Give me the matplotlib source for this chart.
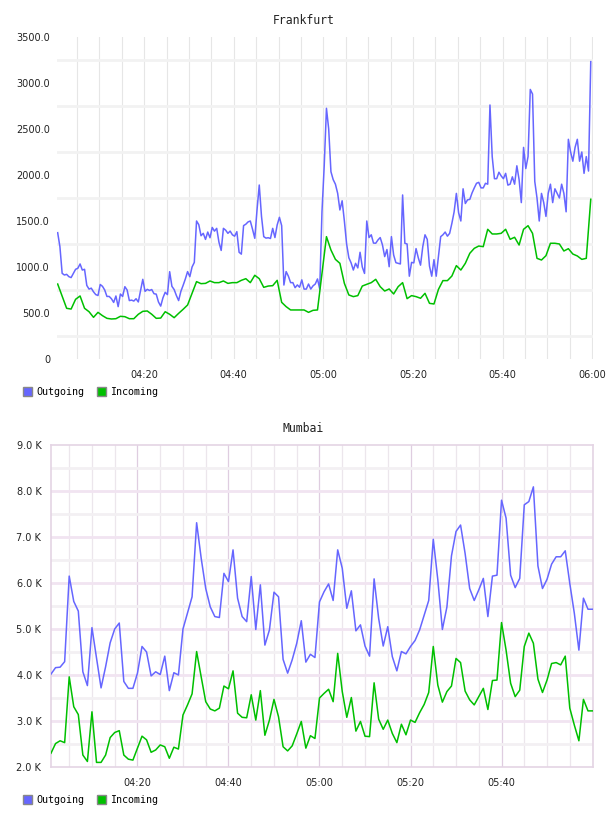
import numpy as np
import matplotlib
matplotlib.use("Agg")
import matplotlib.pyplot as plt
from matplotlib.patches import Patch

# Frankfurt: outgoing every 30 s, incoming every minute (minutes after 04:00)
fra_out = [1373, 1221, 931, 913, 920, 895, 885, 931, 975, 986,
           1033, 967, 975, 800, 760, 770, 730, 700, 690, 810,
           790, 750, 680, 680, 655, 615, 685, 569, 706, 680,
           786, 750, 635, 640, 630, 655, 620, 740, 866, 735,
           757, 745, 755, 710, 705, 620, 575, 665, 725, 700,
           949, 790, 755, 690, 635, 735, 800, 870, 950, 895,
           1000, 1050, 1500, 1460, 1340, 1366, 1300, 1380, 1318, 1430,
           1390, 1420, 1270, 1180, 1420, 1400, 1366, 1390, 1350, 1335,
           1384, 1160, 1140, 1450, 1465, 1490, 1500, 1410, 1312, 1620,
           1891, 1550, 1330, 1314, 1318, 1310, 1420, 1320, 1457, 1540,
           1450, 804, 950, 900, 830, 830, 775, 805, 780, 860,
           760, 760, 815, 760, 795, 815, 870, 760, 1600, 2100,
           2725, 2500, 2036, 1950, 1900, 1801, 1620, 1720, 1500, 1250,
           1100, 1045, 967, 1040, 990, 1160, 1000, 930, 1500, 1320,
           1350, 1260, 1258, 1294, 1320, 1240, 1113, 1190, 1003, 1330,
           1130, 1047, 1040, 1033, 1783, 1258, 1250, 900, 1050, 1045,
           1200, 1100, 1020, 1221, 1350, 1300, 1010, 900, 1080, 900,
           1113, 1330, 1350, 1380, 1335, 1366, 1475, 1600, 1800, 1590,
           1500, 1850, 1690, 1730, 1735, 1805, 1860, 1910, 1920, 1860,
           1860, 1910, 1900, 2761, 2200, 1960, 1960, 2030, 1990, 1960,
           2018, 1890, 1900, 1980, 1900, 2100, 1950, 1700, 2300, 2070,
           2200, 2930, 2880, 1930, 1750, 1500, 1800, 1700, 1550, 1800,
           1900, 1700, 1850, 1800, 1750, 1900, 1800, 1600, 2388, 2250,
           2150, 2300, 2388, 2150, 2250, 2018, 2200, 2043, 3232]
fra_in = [815, 683, 551, 543, 649, 685, 551, 514, 453, 507,
          471, 442, 435, 438, 464, 460, 438, 438, 486, 518,
          522, 486, 442, 445, 514, 486, 449, 496, 540, 587,
          714, 841, 819, 822, 848, 830, 830, 848, 822, 830,
          830, 855, 873, 830, 910, 873, 779, 793, 797, 855,
          616, 569, 533, 533, 533, 533, 507, 529, 533, 930,
          1330, 1185, 1083, 1040, 822, 696, 678, 689, 793, 812,
          830, 866, 786, 739, 761, 707, 786, 830, 656, 689,
          678, 660, 714, 605, 598, 757, 852, 852, 902, 1015,
          967, 1040, 1149, 1203, 1228, 1221, 1410, 1359, 1359, 1366,
          1410, 1301, 1323, 1239, 1410, 1449, 1366, 1094, 1076, 1123,
          1258, 1258, 1250, 1174, 1199, 1141, 1120, 1083, 1094, 1736]

# Mumbai: one value per minute, in thousands
mum_out = [4.02, 4.16, 4.17, 4.29, 6.15, 5.6, 5.39, 4.07, 3.77, 5.03,
           4.37, 3.72, 4.18, 4.7, 5.0, 5.13, 3.86, 3.71, 3.71, 4.04,
           4.62, 4.5, 3.98, 4.07, 4.01, 4.41, 3.66, 4.05, 4.0, 5.0,
           5.35, 5.7, 7.31, 6.54, 5.88, 5.48, 5.27, 5.25, 6.21, 6.03,
           6.72, 5.67, 5.27, 5.16, 6.14, 4.99, 5.96, 4.65, 4.98, 5.8,
           5.7, 4.34, 4.04, 4.33, 4.69, 5.18, 4.28, 4.45, 4.38, 5.59,
           5.81, 5.98, 5.62, 6.72, 6.32, 5.45, 5.83, 4.96, 5.09, 4.63,
           4.41, 6.09, 5.23, 4.63, 5.05, 4.4, 4.09, 4.51, 4.46, 4.62,
           4.75, 4.98, 5.3, 5.62, 6.95, 6.07, 4.99, 5.48, 6.59, 7.12,
           7.26, 6.64, 5.88, 5.62, 5.85, 6.1, 5.27, 6.15, 6.17, 7.8,
           7.41, 6.17, 5.9, 6.1, 7.7, 7.77, 8.09, 6.37, 5.88, 6.08,
           6.41, 6.57, 6.57, 6.7, 5.99, 5.34, 4.54, 5.67, 5.43, 5.43]
mum_in = [2.30, 2.51, 2.57, 2.53, 3.96, 3.31, 3.14, 2.26, 2.12, 3.20,
          2.10, 2.10, 2.26, 2.64, 2.75, 2.79, 2.26, 2.17, 2.15, 2.41,
          2.67, 2.59, 2.32, 2.37, 2.48, 2.44, 2.19, 2.43, 2.39, 3.13,
          3.35, 3.59, 4.51, 3.96, 3.42, 3.26, 3.22, 3.28, 3.76, 3.70,
          4.09, 3.17, 3.08, 3.07, 3.57, 3.02, 3.66, 2.69, 3.02, 3.47,
          3.09, 2.44, 2.35, 2.46, 2.72, 2.99, 2.41, 2.68, 2.62, 3.50,
          3.60, 3.69, 3.42, 4.47, 3.64, 3.08, 3.51, 2.78, 2.99, 2.67,
          2.66, 3.83, 3.04, 2.82, 3.02, 2.73, 2.53, 2.93, 2.70, 3.02,
          2.97, 3.18, 3.36, 3.62, 4.62, 3.78, 3.41, 3.64, 3.76, 4.36,
          4.27, 3.65, 3.46, 3.35, 3.53, 3.71, 3.25, 3.88, 3.89, 5.14,
          4.54, 3.82, 3.53, 3.67, 4.62, 4.91, 4.69, 3.91, 3.62, 3.89,
          4.25, 4.27, 4.22, 4.41, 3.28, 2.91, 2.57, 3.47, 3.22, 3.22]

time_ticks = [20, 40, 60, 80, 100, 120]
time_labels = ["04:20", "04:40", "05:00", "05:20", "05:40", "06:00"]
fra_yticks = [0, 500, 1000, 1500, 2000, 2500, 3000, 3500]
fra_ylabels = ["0", "500.0", "1000.0", "1500.0", "2000.0", "2500.0", "3000.0", "3500.0"]
mum_yticks = [2, 3, 4, 5, 6, 7, 8, 9]
mum_ylabels = ["2.0 K", "3.0 K", "4.0 K", "5.0 K", "6.0 K", "7.0 K", "8.0 K", "9.0 K"]

BLUE = "#6666ff"
GREEN = "#00c000"
MONO = "DejaVu Sans Mono"

fra_t_out = 0.7 + 0.5 * np.arange(len(fra_out))
fra_t_in = 0.7 + 1.0 * np.arange(len(fra_in))
mum_t = np.arange(1, len(mum_out) + 1)

fig = plt.figure(figsize=(6.08, 8.16), dpi=100)

# --- Frankfurt ---
ax1 = fig.add_axes([57 / 608, 1 - 359 / 816, 536 / 608, 322 / 816])
ax1.set_xlim(0.55, 120.2)
ax1.set_ylim(0, 3500)
for m in range(5, 121, 5):
    ax1.axvline(m, color="#e6e6e6", lw=0.8, zorder=0)
for v in range(250, 3500, 500):
    ax1.axhline(v, color="#f2f2f2", lw=2.0, zorder=0)
ax1.plot(fra_t_out, fra_out, color=BLUE, lw=1.1, zorder=3)
ax1.plot(fra_t_in, fra_in, color=GREEN, lw=1.1, zorder=3)
ax1.set_yticks(fra_yticks, fra_ylabels)
ax1.set_xticks(time_ticks, time_labels)
for s in ax1.spines.values():
    s.set_visible(False)
ax1.tick_params(length=0, labelsize=7, colors="#222222")
ax1.tick_params(axis="y", pad=5)
ax1.tick_params(axis="x", pad=8)
fig.text(304 / 608, 1 - 20 / 816, "Frankfurt", ha="center", va="center",
         family=MONO, fontsize=8.3, color="#222222")

# --- Mumbai ---
ax2 = fig.add_axes([51 / 608, 1 - 767 / 816, 542 / 608, 322 / 816])
ax2.set_xlim(1.0, 120.1)
ax2.set_ylim(2.0, 9.0)
for m in range(5, 121, 5):
    c = "#dfcde0" if m % 20 == 0 else "#ece6ec"
    ax2.axvline(m, color=c, lw=0.9, zorder=0)
for v in np.arange(2.5, 9.0, 0.5):
    c = "#f1e4f1" if v % 1 == 0 else "#f3f0f3"
    ax2.axhline(v, color=c, lw=2.0, zorder=0)
ax2.plot(mum_t, mum_out, color=BLUE, lw=1.1, zorder=3)
ax2.plot(mum_t, mum_in, color=GREEN, lw=1.1, zorder=3)
ax2.set_yticks(mum_yticks, mum_ylabels)
ax2.set_xticks(time_ticks[:-1], time_labels[:-1])
for s in ax2.spines.values():
    s.set_color("#e4d4e4")
    s.set_linewidth(1.2)
ax2.tick_params(length=0, labelsize=7, colors="#222222")
ax2.tick_params(axis="y", pad=7)
ax2.tick_params(axis="x", pad=8)
fig.text(303 / 608, 1 - 428 / 816, "Mumbai", ha="center", va="center",
         family=MONO, fontsize=8.3, color="#222222")

# legends
handles = [Patch(facecolor=BLUE, edgecolor="#888888", label="Outgoing"),
           Patch(facecolor=GREEN, edgecolor="#888888", label="Incoming")]
for ypix in (392, 800):
    fig.legend(handles=handles, loc="center left",
               bbox_to_anchor=(23 / 608, 1 - ypix / 816), ncol=2, frameon=False,
               prop={"family": MONO, "size": 7.2}, handlelength=0.9,
               handleheight=0.9, handletextpad=0.4, columnspacing=1.3,
               borderpad=0, borderaxespad=0)

fig.savefig("out.png", dpi=100)
